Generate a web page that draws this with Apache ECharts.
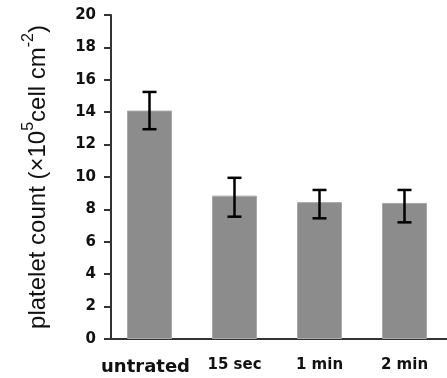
<!DOCTYPE html>
<html>
<head>
<meta charset="utf-8">
<script src="https://cdn.jsdelivr.net/npm/echarts@6/dist/echarts.min.js"></script>
<style>html,body{margin:0;padding:0;background:#fff}#c{width:447px;height:378px}</style>
</head>
<body>
<div id="c"></div>
<script>
var categories = ['untrated', '15 sec', '1 min', '2 min'];
var values = [14.1, 8.85, 8.45, 8.4];
var errUpper = [15.25, 9.95, 9.2, 9.2];
var errLower = [12.95, 7.55, 7.45, 7.2];
var yTicks = [0, 2, 4, 6, 8, 10, 12, 14, 16, 18, 20];

var chart = echarts.init(document.getElementById('c'));
var errData = categories.map(function (c, i) { return [i, errLower[i], errUpper[i]]; });

chart.setOption({
  animation: false,
  backgroundColor: '#fff',
  grid: { left: 107, right: -6, top: 15, bottom: 39 },
  xAxis: {
    type: 'category',
    data: categories,
    axisLine: { lineStyle: { color: '#333', width: 2 } },
    axisTick: { alignWithLabel: true, length: 5, lineStyle: { color: '#333', width: 2 } },
    axisLabel: {
      interval: 0,
      color: '#111', fontFamily: 'DejaVu Sans', fontWeight: 'bold', fontSize: 15, margin: 19,
      formatter: function (v, i) { return i === 0 ? '{big|' + v + '}' : v; },
      rich: { big: { fontSize: 18, fontFamily: 'DejaVu Sans', fontWeight: 'bold', color: '#111', padding: [0, 8, 0, 0] } }
    }
  },
  yAxis: {
    type: 'value',
    min: 0, max: 20, interval: 2,
    offset: -4,
    splitLine: { show: false },
    axisLine: { show: true, lineStyle: { color: '#333', width: 2 } },
    axisTick: { show: true, length: 7, lineStyle: { color: '#333', width: 2 } },
    axisLabel: {
      color: '#111', fontFamily: 'DejaVu Sans', fontWeight: 'bold', fontSize: 15, margin: 15,
      formatter: function (v) { return yTicks.indexOf(v) >= 0 ? String(v) : ''; }
    },
    name: 'platelet count (×10{s|5}cell cm{s|-2})',
    nameLocation: 'middle',
    nameRotate: 90,
    nameGap: 56,
    nameTextStyle: {
      fontFamily: 'Liberation Sans', fontSize: 24, color: '#111',
      rich: { s: { fontFamily: 'Liberation Sans', fontSize: 16, color: '#111', verticalAlign: 'bottom', padding: [0, 0, 18, 0] } }
    }
  },
  series: [
    {
      type: 'bar',
      data: values,
      barWidth: 45,
      itemStyle: { color: '#8c8c8c', borderColor: '#a9a9a9', borderWidth: 1 }
    },
    {
      type: 'custom',
      data: errData,
      z: 10,
      renderItem: function (params, api) {
        var x = api.value(0);
        var lo = api.coord([x, api.value(1)]);
        var hi = api.coord([x, api.value(2)]);
        var hw = 7;
        var st = { stroke: '#000', lineWidth: 2.5 };
        return {
          type: 'group',
          children: [
            { type: 'line', shape: { x1: hi[0], y1: hi[1], x2: lo[0], y2: lo[1] }, style: st },
            { type: 'line', shape: { x1: hi[0] - hw, y1: hi[1], x2: hi[0] + hw, y2: hi[1] }, style: st },
            { type: 'line', shape: { x1: lo[0] - hw, y1: lo[1], x2: lo[0] + hw, y2: lo[1] }, style: st }
          ]
        };
      }
    }
  ]
});
</script>
</body>
</html>
